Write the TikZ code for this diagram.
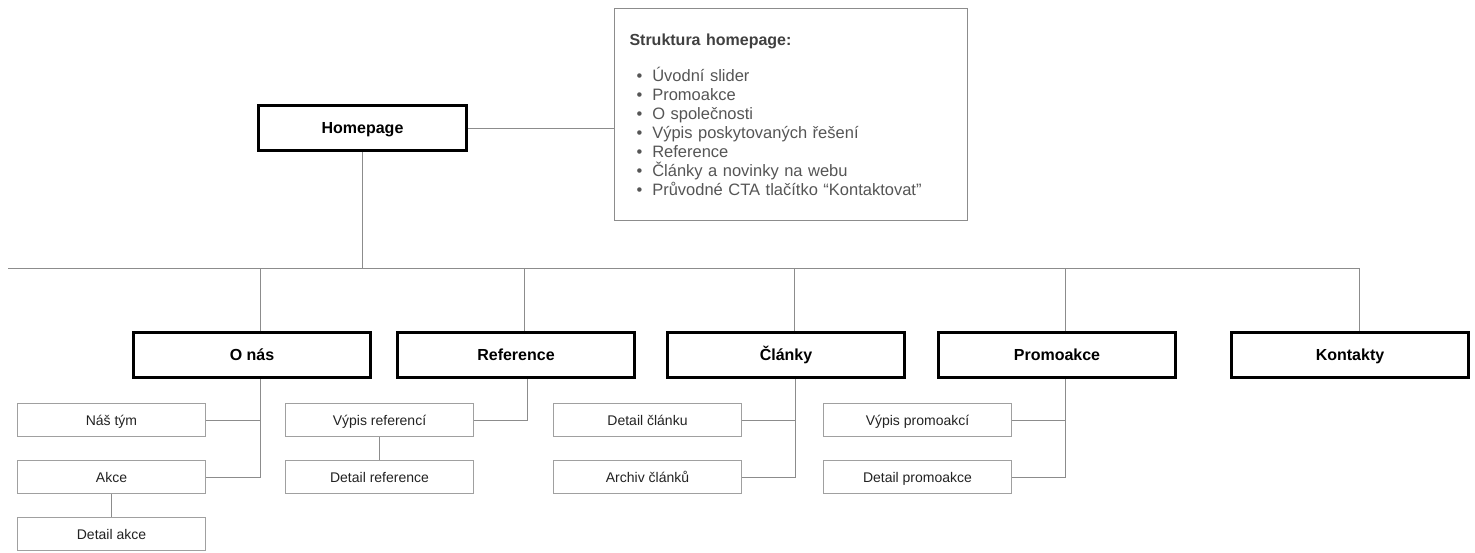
\documentclass[tikz,border=0pt]{standalone}
\usepackage{fontspec}
\setmainfont{Liberation Sans}
\usepackage{tikz}

\definecolor{linegray}{HTML}{8C8C8C}
\definecolor{boxgray}{HTML}{A0A0A0}
\definecolor{notegray}{HTML}{555555}
\definecolor{textdark}{HTML}{222222}
\newcommand{\hpitem}{\hspace*{7pt}\textbullet\hspace*{10pt}}

\begin{document}
\begin{tikzpicture}[x=1pt,y=-1pt,
  pagebox/.style={draw=black,line width=3pt,minimum width=237pt,minimum height=45pt,inner sep=0pt,text height=11.5pt,text depth=0pt,font=\fontsize{16}{18}\selectfont\bfseries},
  subbox/.style={draw=boxgray,line width=1.5pt,minimum width=188pt,minimum height=33pt,inner sep=0pt,text height=10pt,text depth=0pt,text=textdark,font=\fontsize{14}{16}\selectfont},
  notebox/.style={draw=linegray,line width=1pt,anchor=north west,minimum width=353pt,minimum height=212pt,inner xsep=15pt,text width=323pt,align=left,text=notegray,font=\fontsize{16.5}{19}\selectfont},
  link/.style={draw=linegray,line width=1pt}]
  \useasboundingbox (0,0) rectangle (1475,552);

  % homepage + note
  \node[pagebox,minimum width=208pt] (homepage) at (362.5,128) {Homepage};
  \node[notebox] (note) at (614,8) {{\fontsize{16}{19}\selectfont\bfseries\color{black!75}Struktura homepage:}\\[17pt]
    \hpitem Úvodní slider\\
    \hpitem Promoakce\\
    \hpitem O společnosti\\
    \hpitem Výpis poskytovaných řešení\\
    \hpitem Reference\\
    \hpitem Články a novinky na webu\\
    \hpitem Průvodné CTA tlačítko “Kontaktovat”};
  \draw[link] (homepage.east) -- (note.west |- homepage.east);

  % main sections
  \node[pagebox] (onas)      at (252,355)  {O nás};
  \node[pagebox] (reference) at (516,355)  {Reference};
  \node[pagebox] (clanky)    at (786,355)  {Články};
  \node[pagebox] (promoakce) at (1057,355) {Promoakce};
  \node[pagebox] (kontakty)  at (1350,355) {Kontakty};

  % sub pages
  \node[subbox] (nastym)    at (111.5,420) {Náš tým};
  \node[subbox] (akce)      at (111.5,477) {Akce};
  \node[subbox] (detakce)   at (111.5,534) {Detail akce};
  \node[subbox] (vypisref)  at (379.5,420) {Výpis referencí};
  \node[subbox] (detref)    at (379.5,477) {Detail reference};
  \node[subbox] (detclanek) at (647.5,420) {Detail článku};
  \node[subbox] (archiv)    at (647.5,477) {Archiv článků};
  \node[subbox] (vypispro)  at (917.5,420) {Výpis promoakcí};
  \node[subbox] (detpro)    at (917.5,477) {Detail promoakce};

  % bus
  \coordinate (busL) at (8,268);
  \path ([xshift=9pt]kontakty.north) coordinate (kontakty-top);
  \draw[link] (homepage.south) -- (homepage.south |- busL);
  \draw[link] (busL) -| (kontakty-top);
  \foreach \n in {onas,reference,clanky,promoakce} {
    \path ([xshift=8pt]\n.north) coordinate (\n-top);
    \draw[link] (\n-top) -- (\n-top |- busL);
  }

  % trunks below the sections
  \path ([xshift=8pt]onas.south) coordinate (onas-bot);
  \path ([xshift=11pt]reference.south) coordinate (reference-bot);
  \path ([xshift=9pt]clanky.south) coordinate (clanky-bot);
  \path ([xshift=8pt]promoakce.south) coordinate (promoakce-bot);
  \draw[link] (onas-bot) |- (akce.east);
  \draw[link] (nastym.east) -- (nastym.east -| onas-bot);
  \draw[link] (akce) -- (detakce);
  \draw[link] (reference-bot) |- (vypisref.east);
  \draw[link] (vypisref) -- (detref);
  \draw[link] (clanky-bot) |- (archiv.east);
  \draw[link] (detclanek.east) -- (detclanek.east -| clanky-bot);
  \draw[link] (promoakce-bot) |- (detpro.east);
  \draw[link] (vypispro.east) -- (vypispro.east -| promoakce-bot);
\end{tikzpicture}
\end{document}
